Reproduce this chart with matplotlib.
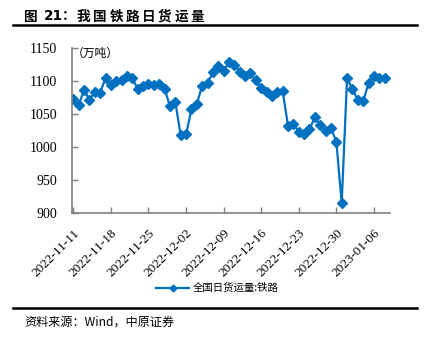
import pandas as pd
import matplotlib.pyplot as plt
import matplotlib.dates as mdates
from matplotlib.lines import Line2D

plt.rcParams['font.family'] = ['Noto Sans CJK SC', 'DejaVu Sans']

# 全国日货运量:铁路 (万吨), daily from 2022-11-11
dates = pd.date_range('2022-11-11', periods=59, freq='D')
volume = [1072, 1063, 1087, 1071, 1084, 1082, 1105, 1094, 1100, 1102,
          1107, 1104, 1088, 1093, 1095, 1094, 1096, 1088, 1062, 1068,
          1018, 1019, 1057, 1065, 1093, 1097, 1113, 1123, 1115, 1129,
          1125, 1114, 1108, 1112, 1101, 1089, 1084, 1078, 1084, 1085,
          1032, 1035, 1023, 1020, 1027, 1045, 1034, 1024, 1029, 1008,
          915, 1104, 1088, 1071, 1069, 1097, 1107, 1105, 1105]
tick_dates = pd.date_range('2022-11-11', '2023-01-06', freq='7D')
yticks = [900, 950, 1000, 1050, 1100, 1150]

blue = '#0070C0'
grey = '#808080'
serif = 'Liberation Serif'
W, H = 430, 341

fig = plt.figure(figsize=(W / 100, H / 100), dpi=100)
ax = fig.add_axes([72 / W, 128 / H, 318 / W, 165 / H])

ax.plot(dates, volume, color=blue, lw=1.6, marker='D', ms=5)

ax.set_ylim(900, 1150)
ax.set_yticks(yticks)
ax.set_xlim(dates[0] - pd.Timedelta(hours=6), dates[0] + pd.Timedelta(days=59))
ax.set_xticks(tick_dates)
ax.xaxis.set_major_formatter(mdates.DateFormatter('%Y-%m-%d'))

for side in ['top', 'right']:
    ax.spines[side].set_visible(False)
for side in ['left', 'bottom']:
    ax.spines[side].set_color(grey)
    ax.spines[side].set_linewidth(1.2)
ax.tick_params(direction='in', length=4, color=grey, width=1)
ax.tick_params(axis='y', pad=10.5)
ax.tick_params(axis='x', pad=10)
for lab in ax.get_yticklabels():
    lab.set_fontfamily(serif)
    lab.set_fontsize(10)
for lab in ax.get_xticklabels():
    lab.set_fontfamily(serif)
    lab.set_fontsize(9.5)
    lab.set_rotation(45)
    lab.set_ha('right')
    lab.set_rotation_mode('anchor')

ax.text(0.0, 0.97, '（万吨）', transform=ax.transAxes, fontsize=8.5,
        va='center', ha='left')

handle = Line2D([], [], color=blue, lw=1.6, marker='D', ms=3.5)
fig.legend([handle], ['全国日货运量:铁路'], loc='center',
           bbox_to_anchor=(0.506, 1 - 288 / H), frameon=False,
           handlelength=3.1, handletextpad=0.4, prop={'size': 7.5})

# title drawn char by char to keep the wide spacing
title_parts = [('图', 24), ('21', 44), ('：', 62)]
title_parts += [(ch, 77 + 16.2 * i) for i, ch in enumerate('我国铁路日货运量')]
for s, x in title_parts:
    fig.text(x / W, 1 - 16.5 / H, s, fontsize=9.8, fontweight='bold',
             va='center', ha='left',
             family=['DejaVu Sans'] if s == '21' else ['Noto Sans CJK SC'])

fig.text(24 / W, 1 - 322.5 / H, '资料来源：Wind，中原证券', fontsize=8.7,
         va='center', ha='left')

for y in [1 - 25 / H, 1 - 308 / H]:
    fig.add_artist(Line2D([13 / W, 417 / W], [y, y], color='black', lw=1.8))

fig.savefig('out.png', dpi=100)
